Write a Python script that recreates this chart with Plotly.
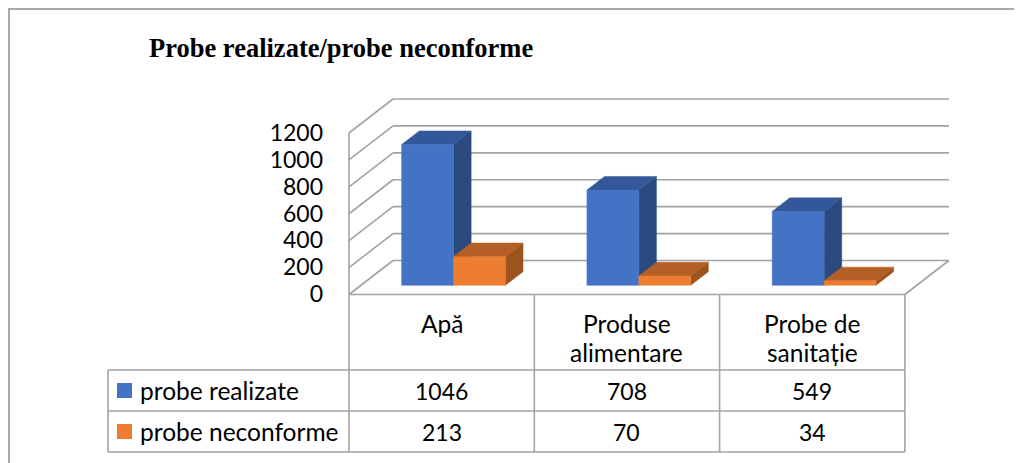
import plotly.graph_objects as go

# data
categories = ["Apă", "Produse alimentare", "Probe de sanitație"]
header_lines = [["Apă"], ["Produse", "alimentare"], ["Probe de", "sanitație"]]
series_names = ["probe realizate", "probe neconforme"]
probe_realizate = [1046, 708, 549]
probe_neconforme = [213, 70, 34]
tick_values = [0, 200, 400, 600, 800, 1000, 1200]
title_text = "Probe realizate/probe neconforme"

series = [probe_realizate, probe_neconforme]
front_colors = ["#4472C4", "#ED7D31"]
top_colors = ["#32589A", "#B45F25"]
side_colors = ["#2B4A80", "#9C531E"]
grid_color = "#A3A3A3"
font_sans = "Lato"

# page geometry (pixels in the screenshot); the page body adds an 8px margin
W, H = 1022, 463
OFF = 8
X_LEFT = 349.0          # front-left corner of the floor
CAT_PX = 185.3          # width of one category / table column
FLOOR_Y = 294.5         # front edge of the floor
V_PX = (294.5 - 133.0) / 1200   # pixels per unit on the front plane
DEPTH_X, DEPTH_Y = 44.0, 34.0   # oblique depth offset of the walls
DX = DEPTH_X / CAT_PX
DY = DEPTH_Y / V_PX
BAR_W = 0.28
D0, D1 = 0.27, 0.67     # bar depth range (0 = front, 1 = back wall)
ROW_Y = [370.0, 411.0, 452.0]
TABLE_LEFT = 108.0


def proj(x, v, d):
    return x + d * DX, v + d * DY


def px(xp):
    return (xp - OFF) / W


def py(yp):
    return 1 - (yp - OFF) / H


fig = go.Figure()

# walls and floor
gx, gy = [], []
n_cat = len(categories)
for v in tick_values:
    for a, b in [(proj(0, v, 1), proj(n_cat, v, 1)), (proj(0, v, 0), proj(0, v, 1))]:
        gx += [a[0], b[0], None]
        gy += [a[1], b[1], None]
for a, b in [((0, 0), (0, tick_values[-1])), ((0, 0), (n_cat, 0)),
             ((n_cat, 0), proj(n_cat, 0, 1))]:
    gx += [a[0], b[0], None]
    gy += [a[1], b[1], None]
fig.add_trace(go.Scatter(x=gx, y=gy, mode="lines", line=dict(color=grid_color, width=1.6),
                         hoverinfo="skip", showlegend=False))

# 3d bars
for s, vals in enumerate(series):
    faces = {"side": ([], []), "top": ([], []), "front": ([], [])}
    for i, v in enumerate(vals):
        x0 = i + 0.5 - BAR_W + s * BAR_W
        x1 = x0 + BAR_W
        polys = {
            "side": [proj(x1, 0, D0), proj(x1, 0, D1), proj(x1, v, D1), proj(x1, v, D0)],
            "top": [proj(x0, v, D0), proj(x1, v, D0), proj(x1, v, D1), proj(x0, v, D1)],
            "front": [proj(x0, 0, D0), proj(x1, 0, D0), proj(x1, v, D0), proj(x0, v, D0)],
        }
        for k, pts in polys.items():
            faces[k][0].extend([p[0] for p in pts] + [pts[0][0], None])
            faces[k][1].extend([p[1] for p in pts] + [pts[0][1], None])
    for k, col in [("side", side_colors[s]), ("top", top_colors[s]), ("front", front_colors[s])]:
        fig.add_trace(go.Scatter(x=faces[k][0], y=faces[k][1], mode="lines", fill="toself",
                                 fillcolor=col, line=dict(color=col, width=0.5),
                                 name=series_names[s], hoverinfo="skip", showlegend=False))

# value axis labels
fig.add_trace(go.Scatter(x=[(323 - X_LEFT) / CAT_PX] * len(tick_values),
                         y=[v - 2.0 / V_PX for v in tick_values], mode="text",
                         text=[str(v) for v in tick_values], textposition="middle left",
                         textfont=dict(family=font_sans, size=23, color="black"),
                         hoverinfo="skip", showlegend=False))

shapes = []
line = dict(color=grid_color, width=1.6)
# outer frame
shapes.append(dict(type="rect", xref="paper", yref="paper", x0=px(9), y0=py(H + 20),
                   x1=px(W + 20), y1=py(9), line=dict(color="#A8A8A8", width=2)))
# table grid
col_x = [X_LEFT + CAT_PX * i for i in range(n_cat + 1)]
for xc in col_x:
    shapes.append(dict(type="line", xref="paper", yref="paper", x0=px(xc), x1=px(xc),
                       y0=py(FLOOR_Y), y1=py(ROW_Y[-1]), line=line))
shapes.append(dict(type="line", xref="paper", yref="paper", x0=px(TABLE_LEFT), x1=px(TABLE_LEFT),
                   y0=py(ROW_Y[0]), y1=py(ROW_Y[-1]), line=line))
for yr in ROW_Y:
    shapes.append(dict(type="line", xref="paper", yref="paper", x0=px(TABLE_LEFT), x1=px(col_x[-1]),
                       y0=py(yr), y1=py(yr), line=line))

annotations = [dict(text="<b>" + title_text + "</b>", xref="paper", yref="paper",
                    x=px(147), y=py(48), xanchor="left", yanchor="middle", showarrow=False,
                    font=dict(family="Liberation Serif", size=26.5, color="black"))]

# header cells
for i, lines in enumerate(header_lines):
    for j, t in enumerate(lines):
        annotations.append(dict(text=t, xref="x", yref="paper", x=i + 0.5, y=py(323 + 29 * j),
                                xanchor="center", yanchor="middle", showarrow=False,
                                font=dict(family=font_sans, size=24.5, color="black")))

# data rows with legend keys
for s, vals in enumerate(series):
    yc = (ROW_Y[s] + ROW_Y[s + 1]) / 2
    shapes.append(dict(type="rect", xref="paper", yref="paper", x0=px(117), x1=px(132),
                       y0=py(yc - 7.5), y1=py(yc + 7.5), fillcolor=front_colors[s],
                       line=dict(width=0)))
    annotations.append(dict(text=series_names[s], xref="paper", yref="paper", x=px(138), y=py(yc),
                            xanchor="left", yanchor="middle", showarrow=False,
                            font=dict(family=font_sans, size=24.5, color="black")))
    for i, v in enumerate(vals):
        annotations.append(dict(text=str(v), xref="x", yref="paper", x=i + 0.5, y=py(yc),
                                xanchor="center", yanchor="middle", showarrow=False,
                                font=dict(family=font_sans, size=23, color="black")))

fig.update_layout(
    width=W, height=H, margin=dict(l=0, r=0, t=0, b=0),
    plot_bgcolor="white", paper_bgcolor="white",
    shapes=shapes, annotations=annotations, showlegend=False,
)
fig.update_xaxes(range=[-(X_LEFT - OFF) / CAT_PX, (W + OFF - X_LEFT) / CAT_PX],
                 visible=False, fixedrange=True)
fig.update_yaxes(range=[-(H + OFF - FLOOR_Y) / V_PX, (FLOOR_Y - OFF) / V_PX],
                 visible=False, fixedrange=True)

fig.write_html("out.html")
